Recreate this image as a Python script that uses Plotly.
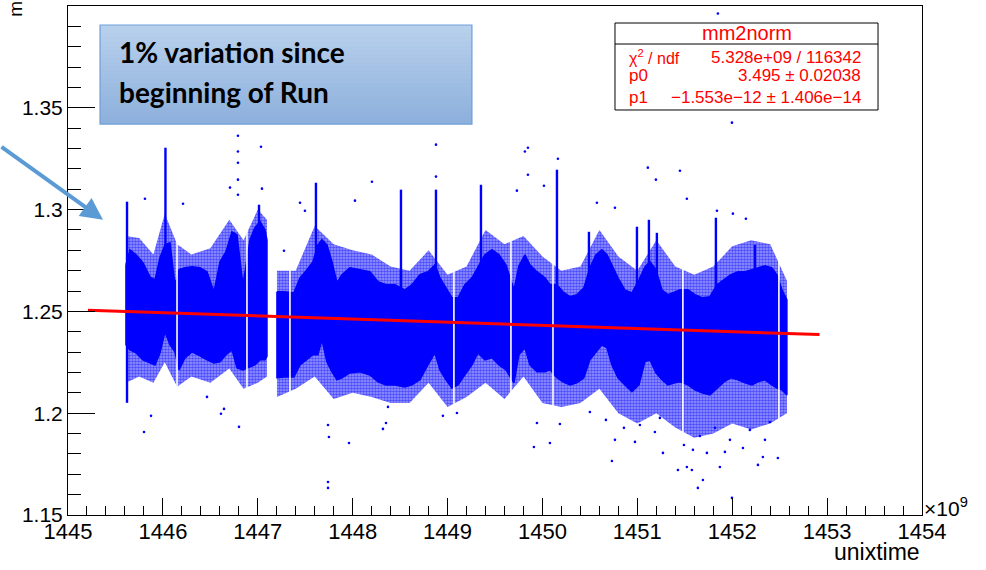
import plotly.graph_objects as go

# ---- data (time in units of 1e9 s unixtime) ----
# dense core of the mm2norm readings: upper / lower edge versus time
band_t = [1445.611, 1445.653, 1445.717, 1445.790, 1445.864, 1445.917, 1445.969, 1446.022, 1446.075, 1446.127,
          1446.170, 1446.233, 1446.307, 1446.391, 1446.465, 1446.538, 1446.602, 1446.665, 1446.728, 1446.781,
          1446.844, 1446.918, 1446.970, 1447.023, 1447.076, 1447.097,
          1447.202, 1447.276, 1447.381, 1447.445, 1447.518, 1447.582, 1447.634, 1447.676, 1447.729, 1447.782,
          1447.835, 1447.887, 1447.971, 1448.077, 1448.182, 1448.267, 1448.351, 1448.446, 1448.551, 1448.625,
          1448.709, 1448.793, 1448.867, 1448.920, 1448.983, 1449.046, 1449.110, 1449.183, 1449.257, 1449.320,
          1449.394, 1449.468, 1449.542, 1449.615, 1449.700, 1449.752, 1449.816, 1449.868, 1449.942, 1450.026,
          1450.079, 1450.153, 1450.216, 1450.290, 1450.363, 1450.437, 1450.500, 1450.564, 1450.627, 1450.680,
          1450.732, 1450.796, 1450.869, 1450.943, 1451.017, 1451.080, 1451.133, 1451.196, 1451.259, 1451.322,
          1451.396, 1451.449, 1451.533, 1451.607, 1451.681, 1451.765, 1451.839, 1451.913, 1451.986, 1452.060,
          1452.134, 1452.208, 1452.271, 1452.345, 1452.418, 1452.471, 1452.524, 1452.576]
band_hi = [1.2729, 1.2803, 1.2778, 1.2739, 1.2670, 1.2655, 1.2764, 1.2827, 1.2837, 1.2631,
           1.2705, 1.2714, 1.2719, 1.2714, 1.2695, 1.2596, 1.2744, 1.2793, 1.2891, 1.2877,
           1.2631, 1.2852, 1.2911, 1.2941, 1.2901, 1.2850,
           1.2596, 1.2596, 1.2591, 1.2665, 1.2705, 1.2744, 1.2827, 1.2852, 1.2827, 1.2744,
           1.2641, 1.2680, 1.2714, 1.2705, 1.2695, 1.2646, 1.2631, 1.2631, 1.2606, 1.2631,
           1.2680, 1.2695, 1.2729, 1.2665, 1.2616, 1.2567, 1.2567, 1.2631, 1.2665, 1.2714,
           1.2778, 1.2803, 1.2778, 1.2729, 1.2606, 1.2724, 1.2778, 1.2729, 1.2695, 1.2665,
           1.2631, 1.2631, 1.2596, 1.2572, 1.2582, 1.2616, 1.2714, 1.2778, 1.2803, 1.2778,
           1.2729, 1.2665, 1.2606, 1.2591, 1.2655, 1.2719, 1.2744, 1.2705, 1.2606, 1.2582,
           1.2596, 1.2606, 1.2606, 1.2582, 1.2567, 1.2572, 1.2631, 1.2655, 1.2680, 1.2695,
           1.2695, 1.2705, 1.2714, 1.2724, 1.2714, 1.2680, 1.2606, 1.2557]
band_lo = [1.2336, 1.2311, 1.2296, 1.2262, 1.2247, 1.2237, 1.2296, 1.2400, 1.2336, 1.2301,
           1.2213, 1.2272, 1.2301, 1.2282, 1.2262, 1.2247, 1.2252, 1.2287, 1.2311, 1.2223,
           1.2213, 1.2228, 1.2237, 1.2262, 1.2262, 1.2280,
           1.2174, 1.2178, 1.2178, 1.2237, 1.2262, 1.2287, 1.2287, 1.2360, 1.2252, 1.2203,
           1.2164, 1.2174, 1.2198, 1.2203, 1.2188, 1.2154, 1.2139, 1.2139, 1.2129, 1.2139,
           1.2164, 1.2237, 1.2296, 1.2213, 1.2164, 1.2124, 1.2139, 1.2188, 1.2237, 1.2296,
           1.2262, 1.2272, 1.2237, 1.2213, 1.2149, 1.2287, 1.2321, 1.2237, 1.2203, 1.2203,
           1.2213, 1.2174, 1.2154, 1.2139, 1.2149, 1.2174, 1.2262, 1.2301, 1.2336, 1.2321,
           1.2237, 1.2174, 1.2139, 1.2105, 1.2139, 1.2252, 1.2262, 1.2198, 1.2164, 1.2139,
           1.2149, 1.2154, 1.2139, 1.2115, 1.2100, 1.2090, 1.2124, 1.2154, 1.2174, 1.2164,
           1.2149, 1.2139, 1.2154, 1.2164, 1.2139, 1.2124, 1.2115, 1.2090]

# looser scatter surrounding the core
fuzz_t = [1445.611, 1445.75, 1445.90, 1446.02, 1446.15, 1446.30, 1446.50, 1446.70, 1446.85, 1447.00, 1447.097,
          1447.202, 1447.40, 1447.60, 1447.80, 1448.00, 1448.20, 1448.40, 1448.60, 1448.80, 1449.00, 1449.20,
          1449.40, 1449.60, 1449.80, 1450.00, 1450.20, 1450.40, 1450.60, 1450.80, 1451.00, 1451.20, 1451.40,
          1451.60, 1451.80, 1452.00, 1452.20, 1452.40, 1452.576]
fuzz_hi = [1.287, 1.286, 1.278, 1.298, 1.283, 1.278, 1.281, 1.295, 1.285, 1.300, 1.295,
           1.270, 1.270, 1.292, 1.283, 1.280, 1.278, 1.272, 1.270, 1.280, 1.268, 1.272,
           1.290, 1.283, 1.287, 1.277, 1.270, 1.272, 1.290, 1.277, 1.270, 1.285, 1.272,
           1.268, 1.272, 1.282, 1.285, 1.283, 1.265]
fuzz_lo = [1.215, 1.218, 1.215, 1.225, 1.213, 1.218, 1.215, 1.222, 1.212, 1.215, 1.218,
           1.208, 1.212, 1.218, 1.207, 1.210, 1.208, 1.205, 1.205, 1.215, 1.203, 1.208,
           1.215, 1.207, 1.218, 1.205, 1.203, 1.205, 1.212, 1.200, 1.195, 1.200, 1.193,
           1.188, 1.190, 1.195, 1.192, 1.195, 1.200]

# data-taking break and short dropouts
run_break = (1447.097, 1447.202)
dropout_t = [1446.149, 1446.886, 1447.339, 1449.067, 1449.668, 1450.111, 1451.480, 1452.492]

# short excursions above the band
spike_t = [1445.622, 1446.027, 1447.013, 1447.613, 1448.509, 1448.878, 1449.352, 1450.153,
           1450.490, 1450.996, 1451.122, 1451.206, 1451.828, 1452.239]
spike_hi = [1.3039, 1.3304, 1.3024, 1.3132, 1.3098, 1.3098, 1.3122, 1.3196,
            1.2891, 1.2916, 1.2950, 1.2886, 1.2960, 1.2827]
spike_lo = [1.2051, 1.2500, 1.2500, 1.2500, 1.2500, 1.2500, 1.2500, 1.2500,
            1.2500, 1.2500, 1.2500, 1.2500, 1.2500, 1.2500]

# isolated readings away from the band
dot_t = [1446.791, 1446.791, 1446.791, 1446.791, 1446.707, 1446.791, 1447.044, 1445.811, 1446.212,
         1447.034, 1448.203, 1448.024, 1447.497, 1447.445, 1447.276, 1448.878, 1448.878, 1449.815,
         1449.847, 1449.847, 1449.731, 1450.016, 1450.163, 1451.111, 1451.449, 1451.196, 1451.522,
         1450.574, 1450.764, 1451.997, 1451.849, 1451.839, 1452.007, 1452.144,
         1445.875, 1445.801, 1446.612, 1446.802, 1446.644, 1446.465, 1447.740, 1447.750, 1447.740,
         1447.740, 1447.961, 1448.351, 1448.319, 1448.372, 1448.951, 1449.099, 1449.910, 1449.942,
         1450.184, 1450.079, 1450.732, 1450.764, 1450.975, 1451.270, 1451.428, 1451.575, 1451.691,
         1451.638, 1451.997, 1451.522, 1451.870, 1452.271, 1452.481, 1452.323, 1451.733, 1451.586,
         1452.113, 1452.397, 1451.976, 1451.027, 1451.185, 1451.659, 1451.818, 1452.186, 1452.345,
         1451.923, 1451.491, 1451.238, 1450.859, 1450.669, 1450.500]
dot_v = [1.3363, 1.3285, 1.3230, 1.3147, 1.3108, 1.3073, 1.3103, 1.3053, 1.3029,
         1.3309, 1.3137, 1.3044, 1.2994, 1.3034, 1.2798, 1.3319, 1.3162, 1.3285,
         1.3304, 1.3171, 1.3093, 1.3117, 1.3250, 1.3206, 1.3191, 1.3147, 1.3053,
         1.3034, 1.3009, 1.3427, 1.3963, 1.2994, 1.2980, 1.2955,
         1.1987, 1.1908, 1.1997, 1.1933, 1.2021, 1.2080, 1.1942, 1.1883, 1.1662,
         1.1633, 1.1854, 1.1952, 1.1923, 1.2031, 1.1987, 1.2001, 1.1834, 1.1952,
         1.1947, 1.1854, 1.1765, 1.1869, 1.1859, 1.1805, 1.1721, 1.1721, 1.1672,
         1.1633, 1.1584, 1.1736, 1.1736, 1.1746, 1.1780, 1.1785, 1.1805, 1.1820,
         1.1829, 1.1957, 1.1869, 1.1942, 1.1908, 1.1888, 1.1928, 1.1918, 1.1869,
         1.1810, 1.1844, 1.1977, 1.1928, 1.1967, 1.2006]

# linear fit mm2norm = p0 + p1 * unixtime
fit_name = "mm2norm"
chi2_ndf = "5.328e+09 / 116342"
p0, p0_err = 3.495, 0.02038
p1, p1_err = -1.553e-12, 1.406e-14
fit_range = (1445.21, 1452.92)

x_ticks = [1445, 1446, 1447, 1448, 1449, 1450, 1451, 1452, 1453, 1454]
y_ticks = [1.15, 1.2, 1.25, 1.3, 1.35, 1.4]

BLUE = "#0000ff"
RED = "#ff0000"
FONT = "Liberation Sans, Arial, sans-serif"

fig = go.Figure()


def split_at_break(t, hi, lo):
    a = [i for i, v in enumerate(t) if v <= run_break[0]]
    b = [i for i, v in enumerate(t) if v >= run_break[1]]
    return [([t[i] for i in s], [hi[i] for i in s], [lo[i] for i in s]) for s in (a, b)]


def polygon(t, hi, lo):
    return t + t[::-1] + [t[0]], hi + lo[::-1] + [hi[0]]


# stippled outer scatter
for t, hi, lo in split_at_break(fuzz_t, fuzz_hi, fuzz_lo):
    px, py = polygon(t, hi, lo)
    fig.add_trace(go.Scatter(
        x=px, y=py, mode="lines", fill="toself", line=dict(width=0),
        fillcolor="rgba(0,0,255,0.40)",
        fillpattern=dict(shape=".", fgcolor=BLUE, size=3, solidity=0.55),
        hoverinfo="skip", showlegend=False))

# solid core
for t, hi, lo in split_at_break(band_t, band_hi, band_lo):
    px, py = polygon(t, hi, lo)
    fig.add_trace(go.Scatter(
        x=px, y=py, mode="lines", fill="toself", fillcolor=BLUE,
        line=dict(width=1.5, color=BLUE), hoverinfo="skip", showlegend=False))

# dropouts (no readings)
gx, gy = [], []
for t in dropout_t:
    gx += [t, t, None]
    gy += [min(fuzz_lo) - 0.002, max(fuzz_hi) + 0.002, None]
fig.add_trace(go.Scatter(x=gx, y=gy, mode="lines", line=dict(color="white", width=1.6),
                         hoverinfo="skip", showlegend=False))

# excursions
sx, sy = [], []
for t, h, l in zip(spike_t, spike_hi, spike_lo):
    sx += [t, t, None]
    sy += [l, h, None]
fig.add_trace(go.Scatter(x=sx, y=sy, mode="lines", line=dict(color=BLUE, width=2.4),
                         hoverinfo="skip", showlegend=False))

# isolated points
fig.add_trace(go.Scatter(x=dot_t, y=dot_v, mode="markers",
                         marker=dict(color=BLUE, size=2.6, line=dict(width=0)),
                         hoverinfo="skip", showlegend=False))

# fit line
fx = [fit_range[0], fit_range[1]]
fy = [p0 + p1 * v * 1e9 for v in fx]
fig.add_trace(go.Scatter(x=fx, y=fy, mode="lines", line=dict(color=RED, width=3),
                         hoverinfo="skip", showlegend=False))

# ---- text box with vertical gradient ----
shapes = []
bx0, bx1, by0, by1 = 0.0375, 0.473, 0.768, 0.9627
n = 24
top_c = (184, 208, 236)
bot_c = (141, 176, 220)
step = (by1 - by0) / n
for i in range(n):
    f = i / (n - 1)
    c = tuple(round(top_c[k] + (bot_c[k] - top_c[k]) * f) for k in range(3))
    y1 = by1 - step * i
    y0 = max(by0, y1 - step * 1.6)
    shapes.append(dict(type="rect", xref="paper", yref="paper", x0=bx0, x1=bx1, y0=y0, y1=y1,
                       fillcolor="rgb(%d,%d,%d)" % c, line=dict(width=0), layer="above"))
shapes.append(dict(type="rect", xref="paper", yref="paper", x0=bx0, x1=bx1, y0=by0, y1=by1,
                   line=dict(color="#6f9fd8", width=1.2), layer="above"))

# ---- fit statistics box ----
sx0, sx1, sy0, sy1 = 0.6405, 0.9485, 0.7957, 0.9666
shapes.append(dict(type="rect", xref="paper", yref="paper", x0=sx0, x1=sx1, y0=sy0, y1=sy1,
                   fillcolor="white", line=dict(color="black", width=1), layer="above"))
shapes.append(dict(type="line", xref="paper", yref="paper", x0=sx0, x1=sx1, y0=0.9253, y1=0.9253,
                   line=dict(color="black", width=1), layer="above"))

BOX_FONT = dict(family="Lato, Carlito, sans-serif", size=28, color="black")
annotations = [
    dict(text="<b>1% variation since</b>", xref="paper", yref="paper", x=0.0575, y=0.9096,
         xanchor="left", yanchor="middle", showarrow=False, font=BOX_FONT),
    dict(text="<b>beginning of Run</b>", xref="paper", yref="paper", x=0.0575, y=0.831,
         xanchor="left", yanchor="middle", showarrow=False, font=BOX_FONT),
    dict(text=fit_name, xref="paper", yref="paper", x=(sx0 + sx1) / 2, y=0.946,
         xanchor="center", yanchor="middle", showarrow=False,
         font=dict(family=FONT, size=20, color=RED)),
    dict(text="χ<sup>2</sup> / ndf", xref="paper", yref="paper", x=0.6546, y=0.8998,
         xanchor="left", yanchor="middle", showarrow=False, font=dict(family=FONT, size=16, color=RED)),
    dict(text=chi2_ndf, xref="paper", yref="paper", x=0.9309, y=0.8998,
         xanchor="right", yanchor="middle", showarrow=False, font=dict(family=FONT, size=17, color=RED)),
    dict(text="p0", xref="paper", yref="paper", x=0.6546, y=0.8625,
         xanchor="left", yanchor="middle", showarrow=False, font=dict(family=FONT, size=17, color=RED)),
    dict(text="%.3f ± %.5f" % (p0, p0_err), xref="paper", yref="paper", x=0.9309, y=0.8625,
         xanchor="right", yanchor="middle", showarrow=False, font=dict(family=FONT, size=17, color=RED)),
    dict(text="p1", xref="paper", yref="paper", x=0.6546, y=0.8193,
         xanchor="left", yanchor="middle", showarrow=False, font=dict(family=FONT, size=17, color=RED)),
    dict(text=("%.3e ± %.3e" % (p1, p1_err)).replace("-", "−"), xref="paper", yref="paper",
         x=0.9309, y=0.8193, xanchor="right", yanchor="middle", showarrow=False,
         font=dict(family=FONT, size=17, color=RED)),
    # axis decorations
    dict(text="×10<sup>9</sup>", xref="paper", yref="paper", x=1.0, y=0.016,
         xanchor="left", yanchor="middle", showarrow=False, font=dict(family=FONT, size=21, color="black")),
    dict(text="unixtime", xref="paper", yref="paper", x=1.0, y=-0.073,
         xanchor="right", yanchor="middle", showarrow=False, font=dict(family=FONT, size=23, color="black")),
    dict(text="mm2norm", xref="paper", yref="paper", x=-0.061, y=0.975, textangle=-90,
         xanchor="center", yanchor="bottom", showarrow=False, font=dict(family=FONT, size=19, color="black")),
    # pointer arrow
    dict(text="", x=1445.369, y=1.295, xref="x", yref="y", ax=-105, ay=-74,
         showarrow=True, arrowhead=2, arrowsize=1.1, arrowwidth=4, arrowcolor="#5b9bd5"),
]

fig.update_layout(
    width=986, height=570,
    margin=dict(l=68, r=64, t=6, b=55),
    paper_bgcolor="white", plot_bgcolor="white",
    font=dict(family=FONT, color="black"),
    shapes=shapes, annotations=annotations,
    xaxis=dict(range=[x_ticks[0], x_ticks[-1]], tickvals=x_ticks, ticks="inside", ticklen=17,
               tickcolor="black", tickwidth=1, showline=True, linecolor="black", linewidth=1,
               mirror=True, showgrid=False, zeroline=False, tickfont=dict(size=22),
               ticklabelstandoff=-3,
               minor=dict(dtick=0.2, tick0=1445, ticks="inside", ticklen=9, tickcolor="black", showgrid=False)),
    yaxis=dict(range=[y_ticks[0], y_ticks[-1]], tickvals=y_ticks, ticktext=[("%g" % v) for v in y_ticks],
               ticks="inside", ticklen=27, tickcolor="black", tickwidth=1, showline=True,
               linecolor="black", linewidth=1, mirror=True, showgrid=False, zeroline=False,
               tickfont=dict(size=21),
               minor=dict(dtick=0.01, tick0=1.15, ticks="inside", ticklen=13, tickcolor="black", showgrid=False)),
)

fig.write_html("out.html")
